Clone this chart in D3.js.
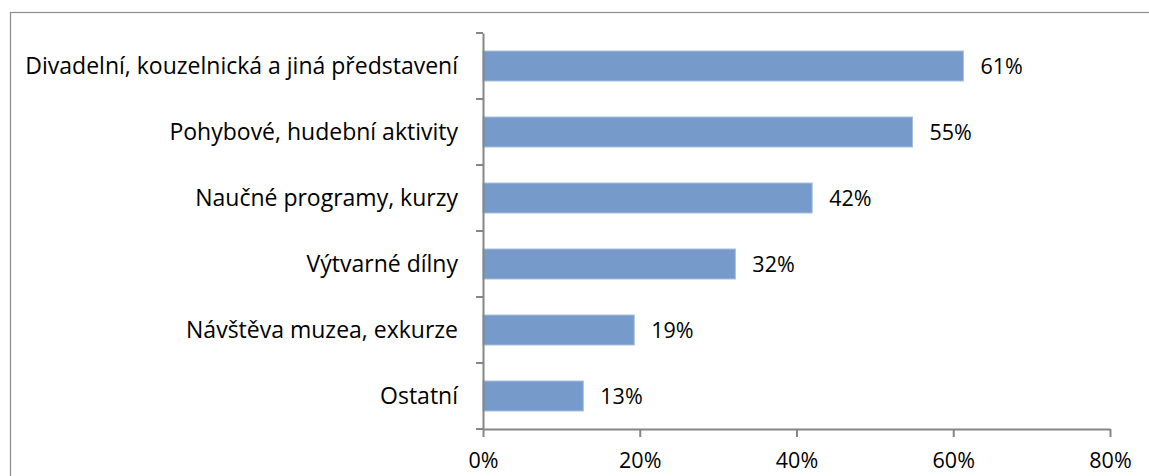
<!DOCTYPE html>
<html>
<head>
<meta charset="utf-8">
<script src="https://cdn.jsdelivr.net/npm/d3@7"></script>
<style>
  body { margin: 0; background: #fff; }
  text { font-family: "Open Sans", "Noto Sans", sans-serif; fill: #000; }
</style>
</head>
<body>
<div id="chart"></div>
<script>
var categories = [
  "Divadelní, kouzelnická a jiná představení",
  "Pohybové, hudební aktivity",
  "Naučné programy, kurzy",
  "Výtvarné dílny",
  "Návštěva muzea, exkurze",
  "Ostatní"
];
var values = [0.613, 0.548, 0.420, 0.322, 0.193, 0.128];
var valueLabels = ["61%", "55%", "42%", "32%", "19%", "13%"];
var tickValues = [0, 0.2, 0.4, 0.6, 0.8];

var W = 1149, H = 476;
var margin = {top: 33, right: 39, bottom: 47, left: 483},
    width = W - margin.left - margin.right,
    height = H - margin.top - margin.bottom;

var svg = d3.select("#chart").append("svg")
    .attr("width", W)
    .attr("height", H);

// outer chart border (clipped by window on right and bottom)
svg.append("rect")
    .attr("x", 10.5).attr("y", 12.5)
    .attr("width", 1160).attr("height", 500)
    .attr("fill", "none")
    .attr("stroke", "#8c8c8c")
    .attr("stroke-width", 1.2);

var g = svg.append("g")
    .attr("transform", "translate(" + margin.left + "," + margin.top + ")");

var x = d3.scaleLinear().domain([0, 0.8]).range([0, width]);
var rows = d3.scaleBand().domain(categories).range([0, height]);

// bars
g.selectAll(".bar")
    .data(values)
    .enter()
    .append("rect")
    .attr("class", "bar")
    .attr("x", 0)
    .attr("y", function(d, i) { return rows(categories[i]) + rows.bandwidth() / 2 - 15; })
    .attr("width", function(d) { return x(d); })
    .attr("height", 30)
    .attr("fill", "#769bca")
    .attr("stroke", "#a7bfdf")
    .attr("stroke-width", 1);

// value labels
g.selectAll(".val")
    .data(values)
    .enter()
    .append("text")
    .attr("class", "val")
    .attr("x", function(d) { return x(d) + 17; })
    .attr("y", function(d, i) { return rows(categories[i]) + rows.bandwidth() / 2; })
    .attr("dy", "0.36em")
    .attr("font-size", "21.5px")
    .text(function(d, i) { return valueLabels[i]; });

// y axis
var yAxis = g.append("g")
    .call(d3.axisLeft(rows).tickValues([]).tickSizeOuter(0));
yAxis.select(".domain").attr("stroke", "#868686").attr("stroke-width", 2);
var bounds = categories.map(function(c) { return rows(c); }).concat([height]);
yAxis.selectAll(".bnd")
    .data(bounds)
    .enter()
    .append("line")
    .attr("x1", -7).attr("x2", 0)
    .attr("y1", function(d) { return d; })
    .attr("y2", function(d) { return d; })
    .attr("stroke", "#868686")
    .attr("stroke-width", 2);

// category labels
g.selectAll(".cat")
    .data(categories)
    .enter()
    .append("text")
    .attr("class", "cat")
    .attr("x", -25)
    .attr("y", function(d) { return rows(d) + rows.bandwidth() / 2; })
    .attr("dy", "0.36em")
    .attr("text-anchor", "end")
    .attr("font-size", "23px")
    .text(function(d) { return d; });

// x axis
var xAxis = g.append("g")
    .attr("transform", "translate(0," + height + ")")
    .call(d3.axisBottom(x).tickValues(tickValues).tickSize(8).tickSizeOuter(0)
      .tickFormat(d3.format(".0%")));
xAxis.select(".domain").attr("stroke", "#868686").attr("stroke-width", 2);
xAxis.selectAll(".tick line").attr("stroke", "#868686").attr("stroke-width", 2);
xAxis.selectAll(".tick text")
    .attr("y", 39)
    .attr("dy", "0")
    .style("font-family", "'Open Sans', 'Noto Sans', sans-serif")
    .style("font-size", "21.5px")
    .attr("fill", "#000");
</script>
</body>
</html>
